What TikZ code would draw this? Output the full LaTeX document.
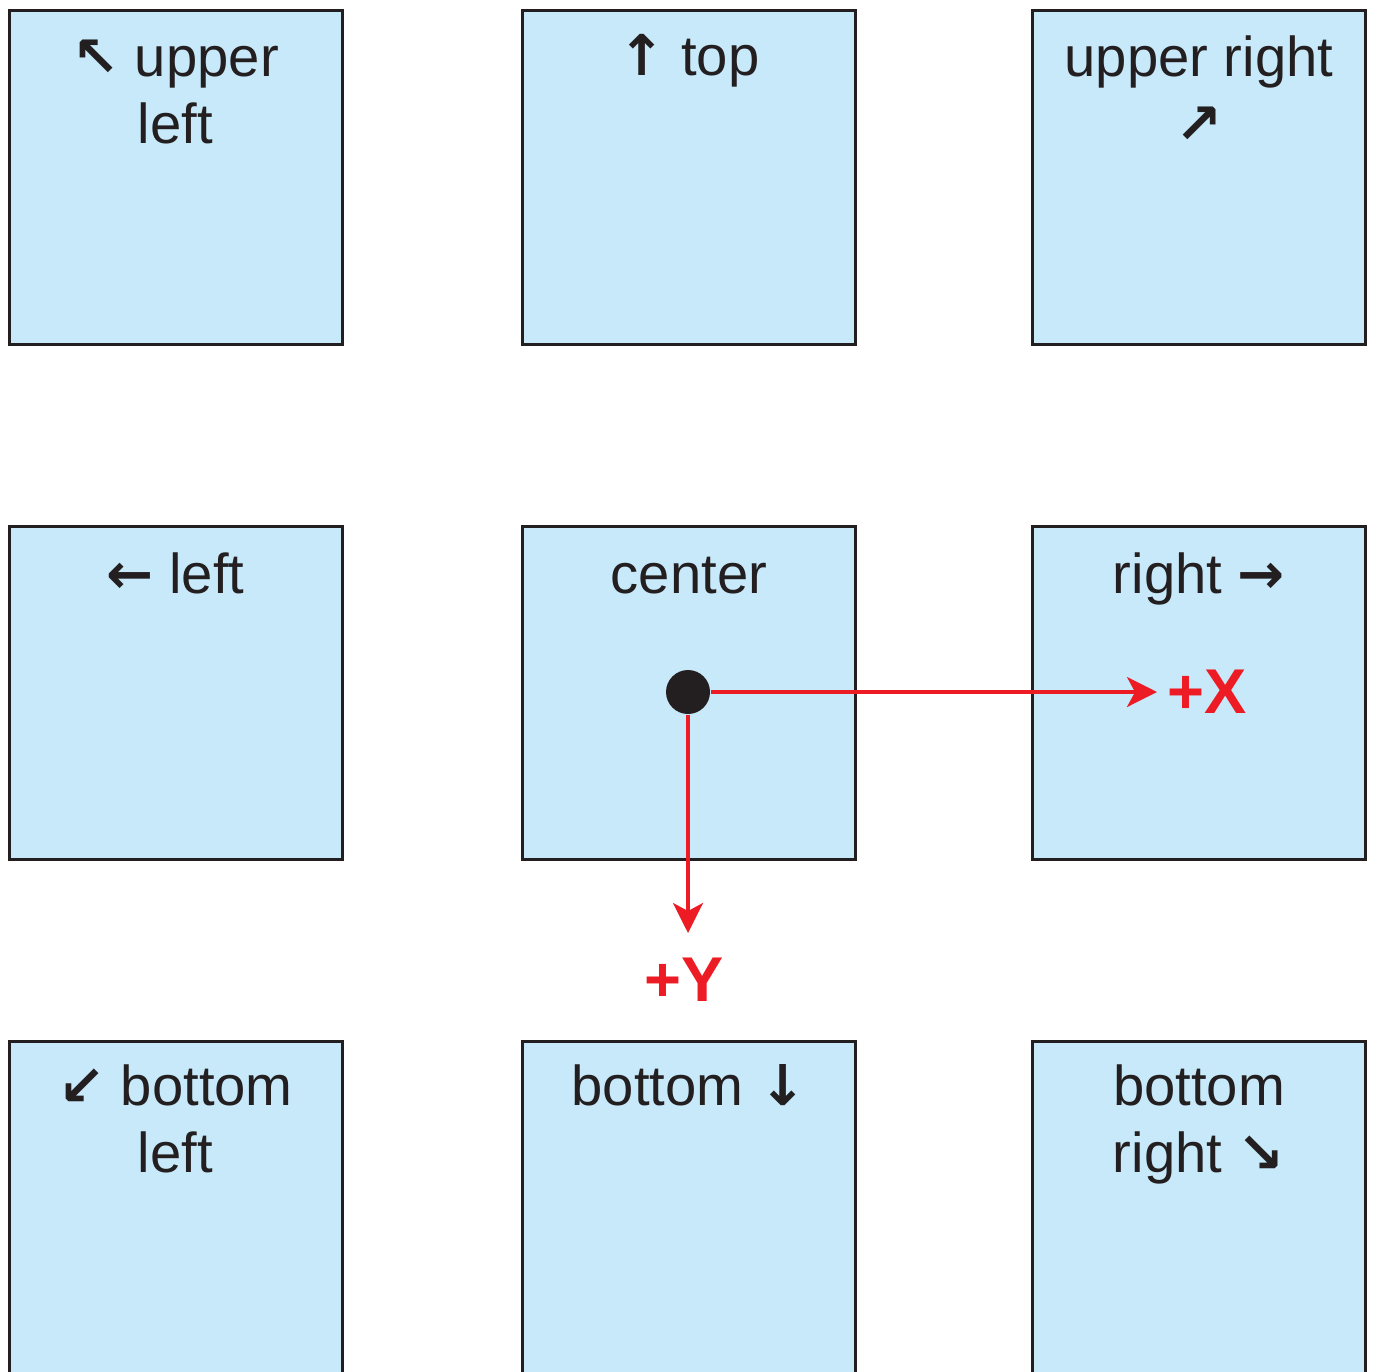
\documentclass[tikz,border=0pt]{standalone}
\usepackage{fontspec}
\setmainfont{Liberation Sans}
\newfontfamily\arr{DejaVu Sans}
\usetikzlibrary{arrows.meta}
\definecolor{cellblue}{HTML}{C7E9FA}
\definecolor{edgegray}{HTML}{231F20}
\definecolor{axisred}{HTML}{ED1C24}
\tikzset{
  cell/.style={draw=edgegray, line width=0.03cm, fill=cellblue, minimum size=3.33cm, inner sep=0},
  lbl/.style={anchor=base, align=center, inner sep=0, text=edgegray, font=\fontsize{16}{19}\selectfont},
  axis/.style={draw=axisred, line width=0.035cm, -{Stealth[length=0.3cm, width=0.3cm, inset=0.08cm]}},
  axislbl/.style={text=axisred, inner sep=0, font=\fontsize{18}{20}\selectfont\bfseries}
}
\begin{document}
\begin{tikzpicture}
        \useasboundingbox (0,0) rectangle (13.75,-13.71);

        % Cells
        \node(ul) [cell] at (1.755,-1.775) {};
        \node(tp) [cell] at (6.89,-1.775) {};
        \node(ur) [cell] at (11.99,-1.775) {};
        \node(lf) [cell] at (1.755,-6.925) {};
        \node(ct) [cell] at (6.89,-6.925) {};
        \node(rt) [cell] at (11.99,-6.925) {};
        \node(bl) [cell] at (1.755,-12.075) {};
        \node(bt) [cell] at (6.89,-12.075) {};
        \node(br) [cell] at (11.99,-12.075) {};

        % Labels (base = last line)
        \node(ultxt) [lbl] at (1.755,-1.43) {{\arr\bfseries ↖} upper\\left};
        \node(tptxt) [lbl] at (6.89,-0.76) {{\arr\bfseries ↑} top};
        \node(urtxt) [lbl] at (11.99,-1.43) {upper right\\{\arr\bfseries ↗}};
        \node(lftxt) [lbl] at (1.755,-5.93) {{\arr\bfseries ←} left};
        \node(cttxt) [lbl] at (6.89,-5.93) {center};
        \node(rttxt) [lbl] at (11.99,-5.93) {right {\arr\bfseries →}};
        \node(bltxt) [lbl] at (1.755,-11.72) {{\arr\bfseries ↙} bottom\\left};
        \node(bttxt) [lbl] at (6.89,-11.05) {bottom {\arr\bfseries ↓}};
        \node(brtxt) [lbl] at (11.99,-11.72) {bottom\\right {\arr\bfseries ↘}};

        % Origin and axes
        \node(orig) [circle, fill=edgegray, minimum size=0.44cm, inner sep=0] at (6.88,-6.92) {};
        \coordinate(xtip) at (11.57,-6.92);
        \coordinate(ytip) at (6.88,-9.33);
        \node(xlbl) [axislbl, anchor=west] at (11.67,-6.92) {+X};
        \node(ylbl) [axislbl] at (6.84,-9.80) {+Y};
        \draw[axis] (orig) -- (xtip);
        \draw[axis] (orig) -- (ytip);

    \end{tikzpicture}
\end{document}
